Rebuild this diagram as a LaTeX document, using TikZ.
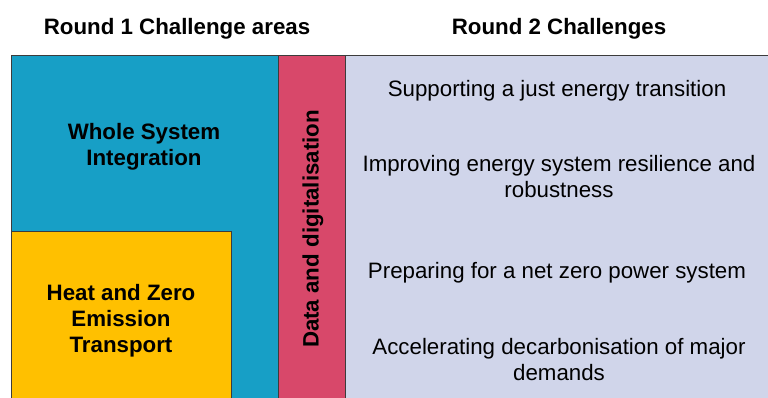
\documentclass[tikz,border=0pt]{standalone}
\usepackage{fontspec}
\setmainfont{Liberation Sans}
\definecolor{wsblue}{RGB}{23,159,198}
\definecolor{hzyellow}{RGB}{255,192,0}
\definecolor{ddpink}{RGB}{216,72,106}
\definecolor{rlav}{RGB}{208,213,234}
\definecolor{edge}{RGB}{60,60,60}
\begin{document}
\begin{tikzpicture}[x=1pt,y=-1pt,
  area/.style={draw=edge,line width=1pt},
  lbl/.style={inner sep=0pt,align=center,font=\fontsize{22.3}{26}\selectfont},
  blbl/.style={lbl,font=\fontsize{22.3}{26}\selectfont\bfseries}]
\useasboundingbox (0,0) rectangle (768,398);
\fill[white] (0,0) rectangle (768,398);
\draw[area,fill=rlav] (345,56) rectangle (770,400);
\draw[area,fill=wsblue] (11,56) rectangle (278,400);
\draw[area,fill=hzyellow] (11,231) rectangle (231,400);
\draw[area,fill=ddpink] (278,56) rectangle (345,400);
\node[blbl] (t1) at (177,29) {Round 1 Challenge areas};
\node[blbl] (t2) at (559,29) {Round 2 Challenges};
\node[blbl] (ws) at (144,146.5) {Whole System\\Integration};
\node[blbl] (hz) at (121,320.5) {Heat and Zero\\Emission\\Transport};
\node[blbl,rotate=90] (dd) at (313,229) {Data and digitalisation};
\node[lbl] (c1) at (557,91) {Supporting a just energy transition};
\node[lbl] (c2) at (559,177) {Improving energy system resilience and\\robustness};
\node[lbl] (c3) at (557,273) {Preparing for a net zero power system};
\node[lbl] (c4) at (559,360) {Accelerating decarbonisation of major\\demands};
\end{tikzpicture}
\end{document}
